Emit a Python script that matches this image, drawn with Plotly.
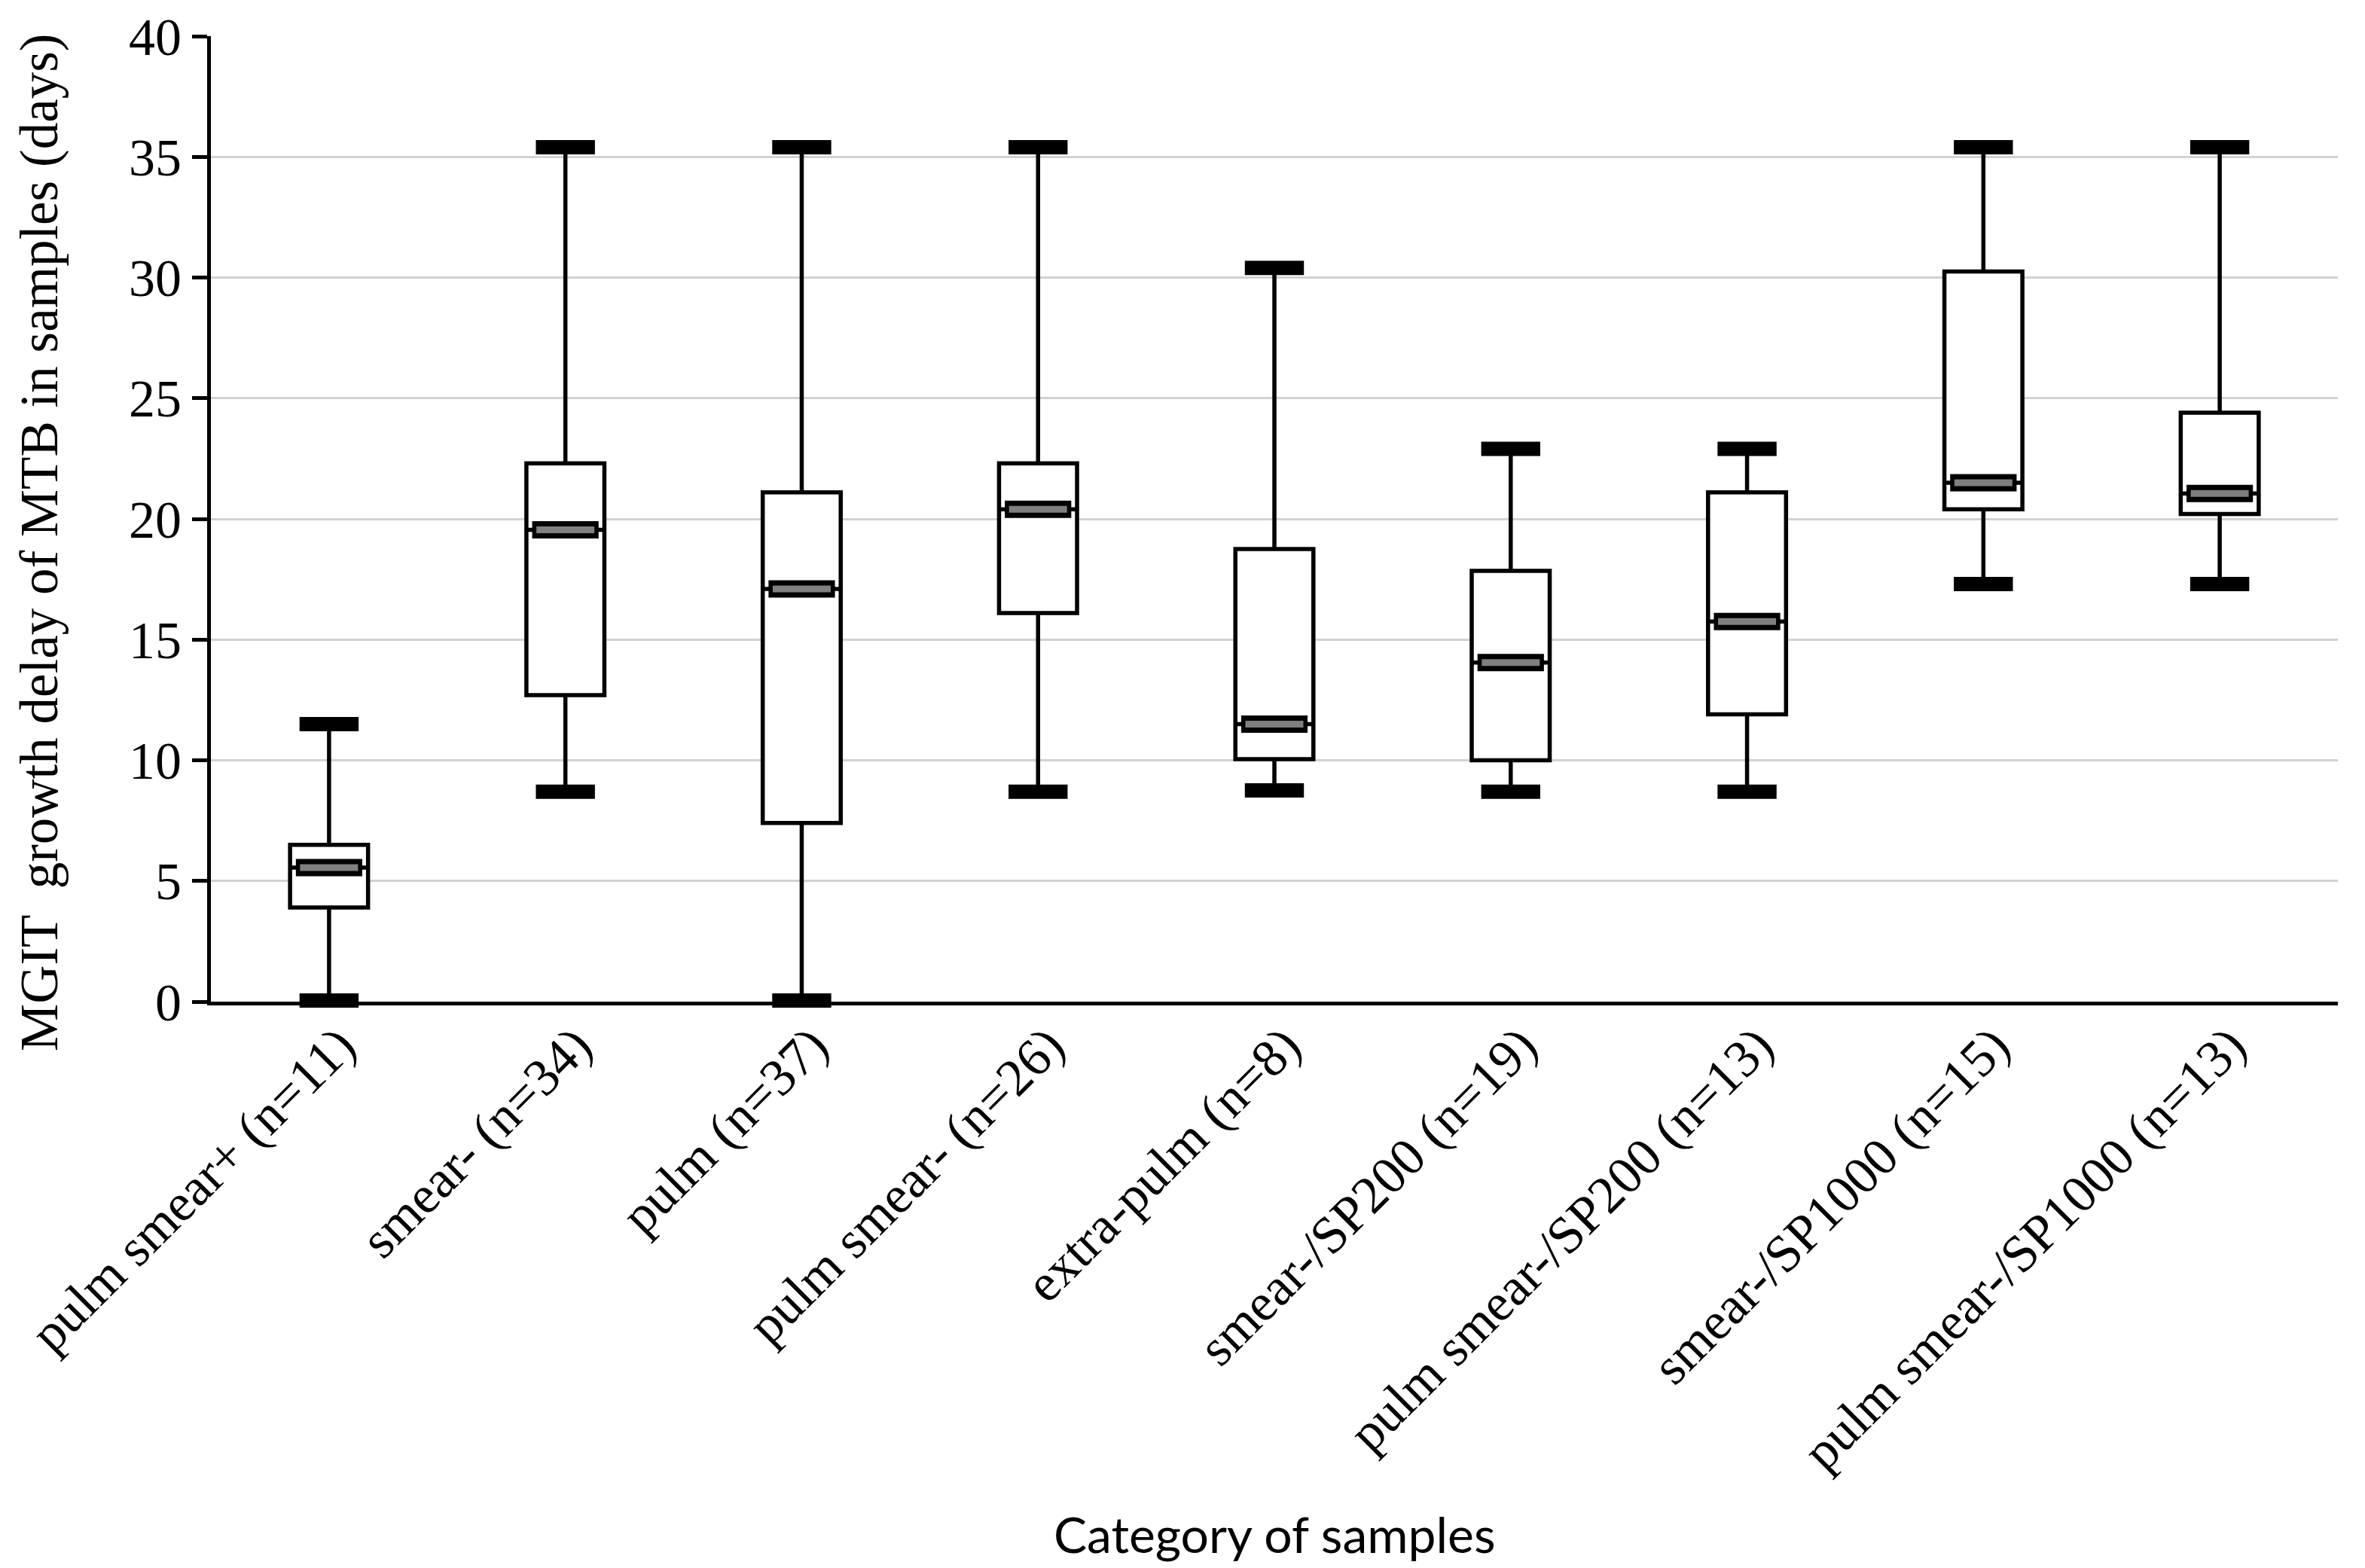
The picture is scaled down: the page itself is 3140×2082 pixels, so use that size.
import plotly.graph_objects as go

categories = ["pulm smear+ (n=11)", "smear- (n=34)", "pulm (n=37)", "pulm smear- (n=26)",
              "extra-pulm (n=8)", "smear-/SP200 (n=19)", "pulm smear-/SP200 (n=13)",
              "smear-/SP1000 (n=15)", "pulm smear-/SP1000 (n=13)"]
minimum = [0.05, 8.7, 0.05, 8.7, 8.75, 8.7, 8.7, 17.3, 17.3]
q1 = [3.9, 12.7, 7.4, 16.1, 10.05, 10.0, 11.9, 20.4, 20.2]
median = [5.55, 19.55, 17.1, 20.4, 11.5, 14.05, 15.75, 21.5, 21.05]
q3 = [6.5, 22.3, 21.1, 22.3, 18.75, 17.85, 21.1, 30.25, 24.4]
maximum = [11.5, 35.4, 35.4, 35.4, 30.4, 22.9, 22.9, 35.4, 35.4]
y_ticks = [0, 5, 10, 15, 20, 25, 30, 35, 40]

xpos = list(range(len(categories)))
SERIF = "Liberation Serif, Times New Roman, serif"

fig = go.Figure()
fig.add_trace(go.Box(
    x=xpos, q1=q1, median=median, q3=q3, lowerfence=minimum, upperfence=maximum,
    width=0.33, whiskerwidth=0, fillcolor="white",
    line=dict(color="black", width=5.5), boxpoints=False, showlegend=False,
))
# whisker caps
fig.add_trace(go.Scatter(
    x=xpos + xpos, y=minimum + maximum, mode="markers", cliponaxis=False,
    marker=dict(symbol="line-ew", size=56, color="black",
                line=dict(color="black", width=19)),
    showlegend=False, hoverinfo="skip",
))
# median bars: black outline then grey fill
fig.add_trace(go.Scatter(
    x=xpos, y=median, mode="markers", cliponaxis=False,
    marker=dict(symbol="line-ew", size=63, color="black",
                line=dict(color="black", width=23)),
    showlegend=False, hoverinfo="skip",
))
fig.add_trace(go.Scatter(
    x=xpos, y=median, mode="markers", cliponaxis=False,
    marker=dict(symbol="line-ew", size=55, color="#7f7f7f",
                line=dict(color="#7f7f7f", width=9)),
    showlegend=False, hoverinfo="skip",
))

fig.update_layout(
    width=3140, height=2082,
    margin=dict(l=272, r=44, t=40, b=760),
    paper_bgcolor="white", plot_bgcolor="white",
    font=dict(family=SERIF, color="black"),
    xaxis=dict(
        range=[-0.5, 8.5], tickmode="array", tickvals=xpos, ticktext=categories,
        tickangle=-45, tickfont=dict(family=SERIF, size=70, color="black"),
        ticklabelshift=14, ticklabelstandoff=-16,
        showgrid=False, zeroline=False, showline=True, linecolor="black", linewidth=5,
        ticks="", automargin=False, ticklabeloverflow="allow",
    ),
    yaxis=dict(
        range=[0, 40], tickmode="array", tickvals=y_ticks,
        tickfont=dict(family=SERIF, size=70, color="black"),
        showgrid=True, gridcolor="#d2d2d2", gridwidth=3, zeroline=False,
        showline=True, linecolor="black", linewidth=5,
        ticks="outside", ticklen=20, tickwidth=5, tickcolor="black",
        automargin=False, ticklabeloverflow="allow",
    ),
    annotations=[
        dict(text="Category of samples", xref="paper", yref="paper", x=0.5, y=0,
             yshift=-706, xanchor="center", yanchor="middle", showarrow=False,
             font=dict(family="Lato, Carlito, Calibri, sans-serif", size=66, color="black")),
        dict(text="MGIT  growth delay of MTB in samples (days)", xref="paper", yref="paper",
             x=0, y=0.5, xshift=-228, yshift=-32, textangle=-90,
             xanchor="center", yanchor="middle", showarrow=False,
             font=dict(family=SERIF, size=71, color="black")),
    ],
)

fig.write_html("out.html")
